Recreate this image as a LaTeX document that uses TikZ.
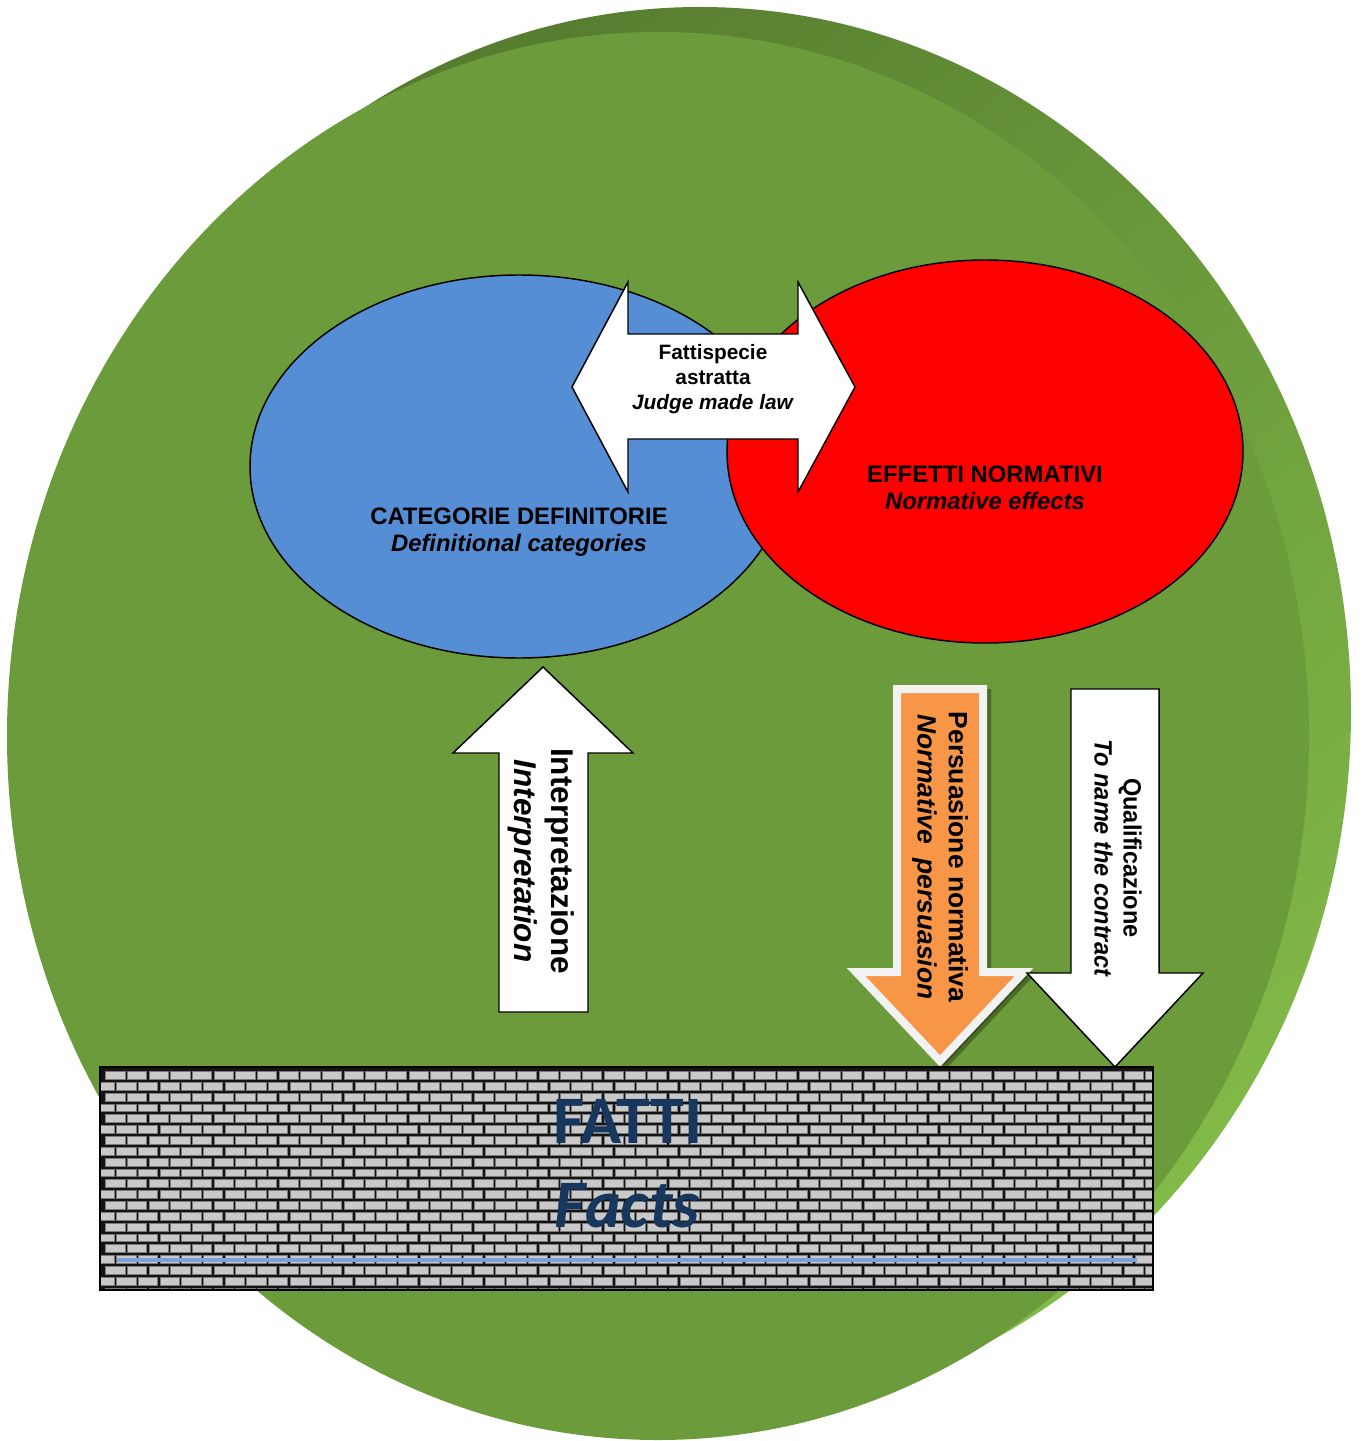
\documentclass[tikz,border=0pt]{standalone}
\usepackage{fontspec}
\setmainfont{Liberation Sans}
\newfontfamily\calib{Carlito}
\newfontfamily\narrowsans[FakeStretch=0.94]{Liberation Sans}
\usetikzlibrary{shapes.geometric}
\definecolor{face}{HTML}{6C9B3B}
\definecolor{rimdark}{HTML}{557B2F}
\definecolor{rimmid}{HTML}{72A53F}
\definecolor{rimlight}{HTML}{82BA48}
\definecolor{blueC}{HTML}{558ED5}
\definecolor{redC}{HTML}{FF0000}
\definecolor{orangeC}{HTML}{F79646}
\definecolor{borderC}{HTML}{F2F2F2}
\definecolor{navy}{HTML}{17375E}
\definecolor{brickC}{HTML}{C9C9C9}
\definecolor{brickEdge}{HTML}{7A7A7A}
\definecolor{mortar}{HTML}{141414}
\definecolor{lineblue}{HTML}{7BA1D8}
\tikzset{
  oval/.style={ellipse, draw=black, line width=1.1pt, inner sep=0pt},
  blockarrow/.style={fill=white, draw=black, line width=1.1pt, line join=miter},
  lbl/.style={align=center, inner sep=0pt, text=black},
  brick/.style={fill=brickC, draw=brickEdge, line width=0.6pt},
}
\begin{document}
\begin{tikzpicture}[x=0.75pt, y=-0.75pt]
\useasboundingbox (0,0) rectangle (1364,1441);

% disc: rim and face
\shade[top color=rimdark, middle color=rimmid, bottom color=rimlight, shading angle=40]
  (700,711) ellipse [x radius=651, y radius=704];
\fill[face] (658,736) ellipse [x radius=651, y radius=704];

% ellipses
\node[oval, fill=blueC, minimum width=403.5pt, minimum height=287.25pt] (blue) at (519,466.5) {};
\node[oval, fill=redC, minimum width=387pt, minimum height=287.25pt] (red) at (985,451.5) {};

\node[lbl, font=\fontsize{17.9}{20.5}\selectfont\bfseries] (catlbl) at (519,532)
  {CATEGORIE DEFINITORIE\\\textit{Definitional categories}};
\node[lbl, font=\fontsize{17.9}{20.5}\selectfont\bfseries] (efflbl) at (985,488)
  {EFFETTI NORMATIVI\\\textit{Normative effects}};

% double arrow
\draw[blockarrow] (572,387) -- (628,282) -- (628,334) -- (798,334) -- (798,282)
  -- (855,387) -- (798,492) -- (798,439) -- (628,439) -- (628,492) -- cycle;
\node[lbl, font=\fontsize{15.6}{18.75}\selectfont\bfseries] (fattlbl) at (713,379)
  {Fattispecie\\astratta\\\textit{Judge made law}};

% up arrow
\draw[blockarrow] (543,667) -- (633,753) -- (588,753) -- (588,1012) -- (499,1012)
  -- (499,753) -- (453,753) -- cycle;
\node[lbl, rotate=-90, font=\fontsize{23.6}{27.75}\selectfont\bfseries] (intlbl) at (541,861)
  {Interpretazione\\\textit{Interpretation}};

% orange arrow (shadow, then arrow)
\begin{scope}[shift={(4,4)}]
\fill[black, opacity=0.3, line join=miter] (897,689) -- (983,689) -- (983,972) -- (1024,972)
  -- (940,1061) -- (856,972) -- (897,972) -- cycle;
\draw[black, opacity=0.3, line width=6pt, line join=miter] (897,689) -- (983,689) -- (983,972) -- (1024,972)
  -- (940,1061) -- (856,972) -- (897,972) -- cycle;
\end{scope}
\draw[fill=orangeC, draw=borderC, line width=6pt, line join=miter] (897,689) -- (983,689)
  -- (983,972) -- (1024,972) -- (940,1061) -- (856,972) -- (897,972) -- cycle;
\node[lbl, rotate=-90, font=\fontsize{19.8}{23.5}\selectfont\bfseries] (perslbl) at (940,857)
  {Persuasione normativa\\\textit{Normative~~persuasion}};

% white down arrow
\draw[blockarrow] (1071,689) -- (1159,689) -- (1159,973) -- (1203,973) -- (1115,1067)
  -- (1027,973) -- (1071,973) -- cycle;
\node[lbl, rotate=-90, font=\narrowsans\fontsize{18.75}{21.75}\selectfont\bfseries] (quallbl) at (1118,858)
  {Qualificazione\\\textit{To name the contract}};

% brick wall
\begin{scope}
\clip (100,1067) rectangle (1153,1289);
\fill[mortar] (100,1067) rectangle (1153,1289);
\foreach \i in {0,...,20}{
  \foreach \j in {0,...,49}{
    \filldraw[brick] ({95+10.833*mod(\i+1,2)+21.667*\j},{1071.5+10.833*\i}) rectangle ++(19.3,7.8);
  }
}
\end{scope}
\node[draw=black, line width=1.5pt, minimum width=789.75pt, minimum height=167.25pt, inner sep=0pt] (wall) at (626.5,1178) {};
\coordinate (bl1) at (117,1260);
\coordinate (bl2) at (1137,1260);
\draw[lineblue, line width=2.4pt] (bl1) -- (bl2);
\node[anchor=base, inner sep=0pt, text=navy, font=\calib\fontsize{51}{51}\selectfont\bfseries] (fatti) at (628,1143) {FATTI};
\node[anchor=base, inner sep=0pt, text=navy, font=\calib\fontsize{51}{51}\selectfont\bfseries\itshape] (facts) at (627,1227) {Facts};
\end{tikzpicture}
\end{document}
